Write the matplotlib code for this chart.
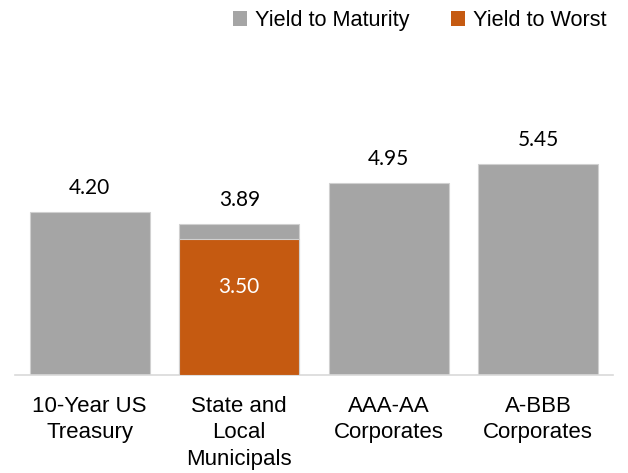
import matplotlib
matplotlib.use("Agg")
import matplotlib.pyplot as plt
from matplotlib.patches import Patch

categories = ["10-Year US\nTreasury", "State and\nLocal\nMunicipals", "AAA-AA\nCorporates", "A-BBB\nCorporates"]
ytm = [4.20, 3.89, 4.95, 5.45]
ytw = [None, 3.50, None, None]
ytm_labels = ["4.20", "3.89", "4.95", "5.45"]
ytw_labels = [None, "3.50", None, None]

GRAY = "#A5A5A5"
ORANGE = "#C55A11"

fig = plt.figure(figsize=(6.28, 4.73), dpi=100)
ax = fig.add_axes([15/628, (473-375)/473, 598/628, (375-65)/473])

x = list(range(len(categories)))
ax.bar(x, ytm, width=0.8, color=GRAY, edgecolor="#D0D0D0", linewidth=0.8, zorder=2)
for i, v in enumerate(ytw):
    if v is not None:
        ax.bar(i, v, width=0.8, color=ORANGE, edgecolor="#D0D0D0", linewidth=0.8, zorder=3)
        ax.text(i, v / 2 + 0.52, ytw_labels[i], ha="center", va="center", color="white",
                fontsize=15, family=["Lato", "DejaVu Sans"], zorder=4)

for i, v in enumerate(ytm):
    ax.annotate(ytm_labels[i], (i, v), xytext=(0, 17.5), textcoords="offset points",
                ha="center", va="center", fontsize=15, family=["Lato", "DejaVu Sans"])

ax.set_xlim(-0.5, 3.5)
ax.set_ylim(0, 8)
ax.set_xticks(x)
ax.set_xticklabels(categories, fontsize=16, family=["Liberation Sans", "DejaVu Sans"],
                   linespacing=1.34)
ax.tick_params(axis="x", length=0, pad=15)
ax.set_yticks([])
for s in ["top", "right", "left"]:
    ax.spines[s].set_visible(False)
ax.spines["bottom"].set_color("#D9D9D9")
ax.spines["bottom"].set_linewidth(1.2)

handles = [Patch(facecolor=GRAY, label="Yield to Maturity"),
           Patch(facecolor=ORANGE, label="Yield to Worst")]
fig.legend(handles=handles, loc="upper right", bbox_to_anchor=(0.997, 1.02), ncol=2,
           frameon=False, handlelength=0.65, handleheight=0.65, handletextpad=0.38,
           columnspacing=1.9, prop={"family": ["Liberation Sans", "DejaVu Sans"], "size": 15.6})

fig.savefig("out.png", dpi=100)
